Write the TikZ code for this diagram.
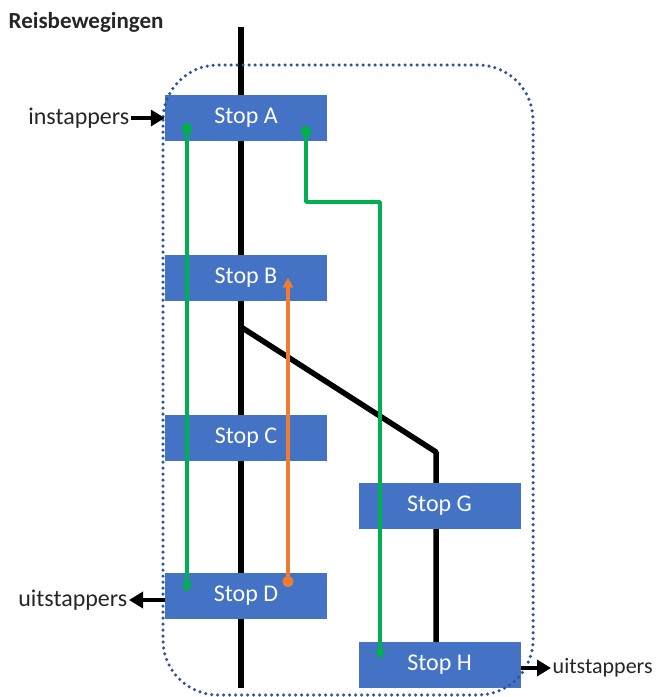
\documentclass[tikz,border=0pt]{standalone}
\usepackage{fontspec}
\setmainfont{Carlito}
\usetikzlibrary{arrows.meta}
\definecolor{stopblue}{HTML}{4472C4}
\definecolor{walkgreen}{HTML}{00B050}
\definecolor{walkorange}{HTML}{ED7D31}
\definecolor{zoneblue}{HTML}{2F5597}

\begin{document}
\begin{tikzpicture}[
  x={(1pt,0pt)}, y={(0pt,-1pt)},
  line join=round,
  stopbox/.style={fill=stopblue, text=white, minimum width=162pt, minimum height=46pt,
    inner sep=0pt, font=\fontsize{24}{28}\selectfont},
  lbl/.style={font=\fontsize{24}{28}\selectfont, text=black!85, inner sep=1.5pt},
  track/.style={line width=5.5pt},
  walk/.style={line width=3.5pt, {Circle[length=11pt]}-{Triangle[length=10pt,width=10pt]}},
  flow/.style={line width=4.5pt, -{Triangle[length=14pt,width=16pt]}},
  zone/.style={zoneblue, line width=3.5pt, line cap=round, dash pattern=on 0pt off 6pt,
    rounded corners=55pt}
]
\useasboundingbox (0,0) rectangle (661,697);

% 标题
\node[lbl, font=\fontsize{23}{27}\selectfont\bfseries, anchor=west] (title) at (7,22) {Reisbewegingen};

% 线路
\draw[track] (241,27) -- (241,688);
\draw[track] (241,327) -- (436,452) -- (436,645);

% 站点
\node[stopbox] (stopA) at (246,118) {Stop A};
\node[stopbox] (stopB) at (246,277.5) {Stop B};
\node[stopbox] (stopC) at (246,437.5) {Stop C};
\node[stopbox] (stopD) at (246,596) {Stop D};
\node[stopbox] (stopG) at (439.5,506) {Stop G};
\node[stopbox] (stopH) at (439.5,665) {Stop H};

% 区域
\draw[zone] (163,65) rectangle (533,695);

% 出行
\coordinate (a1) at ([xshift=-59pt,yshift=-5pt]stopA.center);
\coordinate (d1) at ([xshift=-59pt,yshift=3pt]stopD.center);
\coordinate (a2) at ([xshift=60pt,yshift=-8pt]stopA.center);
\coordinate (h1) at ([xshift=-59.5pt,yshift=5pt]stopH.center);
\coordinate (d2) at ([xshift=42pt,yshift=9pt]stopD.center);
\coordinate (b1) at ([xshift=42pt]stopB.center);
\draw[walk, walkgreen] (a1) -- (d1);
\draw[walk, walkgreen] (a2) -- ++(0,76) -| (h1);
\draw[walk, walkorange] (d2) -- (b1);

% 上下车
\node[lbl, anchor=east] (instap) at (131,118) {instappers};
\draw[flow] (instap.east) -- (stopA.west |- instap.east);
\node[lbl, anchor=east] (uitL) at (129,600) {uitstappers};
\draw[flow] (stopD.west |- uitL.east) -- (uitL.east);
\node[lbl, font=\fontsize{22}{26}\selectfont, anchor=west] (uitR) at (551,668) {uitstappers};
\draw[flow] (stopH.east |- uitR.west) -- (uitR.west);
\end{tikzpicture}
\end{document}
